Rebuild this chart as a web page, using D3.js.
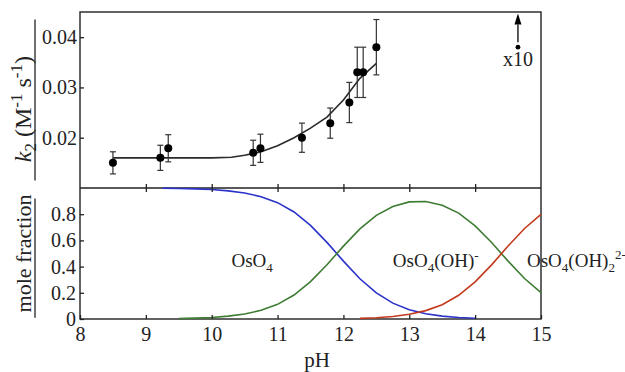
<!DOCTYPE html>
<html>
<head>
<meta charset="utf-8">
<script src="https://cdn.jsdelivr.net/npm/d3@7/dist/d3.min.js"></script>
<style>
  body { margin: 0; background: #fff; }
  svg text { font-family: "Liberation Serif", "Times New Roman", serif; fill: #222; }
</style>
</head>
<body>
<div id="chart"></div>
<script>
var width = 625, height = 372;

// measured rate constants (top panel)
var kPH  = [8.5, 9.22, 9.34, 10.63, 10.74, 11.37, 11.8, 12.09, 12.21, 12.3, 12.5];
var kVal = [0.0150, 0.0160, 0.0179, 0.0170, 0.0179, 0.0200, 0.0229, 0.0270, 0.0330, 0.0330, 0.0380];
var kErr = [0.0022, 0.0025, 0.0027, 0.0025, 0.0028, 0.0029, 0.0030, 0.0040, 0.0050, 0.0050, 0.0055];

// fitted curve
var fitPH = [8.5, 9, 9.5, 10, 10.3, 10.5, 10.75, 11, 11.25, 11.5, 11.75, 12, 12.25, 12.5];
var fitK  = [0.0160, 0.0160, 0.0160, 0.0160, 0.0161, 0.0165, 0.0172, 0.0184, 0.0200, 0.0219, 0.0241, 0.0275, 0.0318, 0.0348];

// speciation (bottom panel)
var specPH = [9.25, 9.5, 9.75, 10, 10.25, 10.5, 10.75, 11, 11.25, 11.5, 11.75, 12,
              12.25, 12.5, 12.75, 13, 13.25, 13.5, 13.75, 14, 14.25, 14.5, 14.75, 15];
var fracOsO4 = [0.998, 0.996, 0.993, 0.988, 0.978, 0.962, 0.934, 0.888, 0.817, 0.715, 0.585, 0.442,
                0.307, 0.199, 0.121, 0.071, 0.040, 0.022, 0.011, 0.006, null, null, null, null];
var fracOH   = [null, 0.004, 0.007, 0.012, 0.022, 0.038, 0.066, 0.112, 0.183, 0.285, 0.414, 0.556,
                0.688, 0.791, 0.859, 0.894, 0.897, 0.869, 0.808, 0.711, 0.584, 0.442, 0.309, 0.201];
var fracOH2  = [null, null, null, null, null, null, null, null, null, null, null, null,
                0.005, 0.010, 0.019, 0.036, 0.064, 0.109, 0.181, 0.283, 0.413, 0.557, 0.691, 0.799];

var xTicks = [8, 9, 10, 11, 12, 13, 14, 15];
var kTicks = [0.02, 0.03, 0.04];
var fTicks = [0, 0.2, 0.4, 0.6, 0.8];

var mLeft = 80, mRight = 541, mTop = 12, mMid = 188, mBottom = 319;

var x = d3.scaleLinear().domain([8, 15]).range([mLeft, mRight]);
var yK = d3.scaleLinear().domain([0.01, 0.045]).range([mMid, mTop]);
var yF = d3.scaleLinear().domain([0, 1]).range([mBottom, mMid]);

var svg = d3.select("#chart").append("svg")
    .attr("width", width)
    .attr("height", height);

// ---- top panel ----
var fitLine = d3.line()
    .x(function(d, i) { return x(fitPH[i]); })
    .y(function(d) { return yK(d); });

svg.append("path")
    .datum(fitK)
    .attr("d", fitLine)
    .attr("fill", "none")
    .attr("stroke", "#2a2a2a")
    .attr("stroke-width", 1.6);

var pts = svg.append("g").selectAll("g")
    .data(kVal)
    .enter().append("g");

pts.append("line")
    .attr("x1", function(d, i) { return x(kPH[i]); })
    .attr("x2", function(d, i) { return x(kPH[i]); })
    .attr("y1", function(d, i) { return yK(d - kErr[i]); })
    .attr("y2", function(d, i) { return yK(d + kErr[i]); })
    .attr("stroke", "#333").attr("stroke-width", 1.2);
[-1, 1].forEach(function(s) {
  pts.append("line")
      .attr("x1", function(d, i) { return x(kPH[i]) - 3; })
      .attr("x2", function(d, i) { return x(kPH[i]) + 3; })
      .attr("y1", function(d, i) { return yK(d + s * kErr[i]); })
      .attr("y2", function(d, i) { return yK(d + s * kErr[i]); })
      .attr("stroke", "#333").attr("stroke-width", 1.2);
});
pts.append("circle")
    .attr("cx", function(d, i) { return x(kPH[i]); })
    .attr("cy", function(d) { return yK(d); })
    .attr("r", 4)
    .attr("fill", "#000");

// x10 marker
var mx = x(14.65);
var headBase = yK(0.0425);
svg.append("circle").attr("cx", mx).attr("cy", yK(0.038)).attr("r", 2.4).attr("fill", "#000");
svg.append("line")
    .attr("x1", mx).attr("x2", mx)
    .attr("y1", yK(0.038) - 5).attr("y2", headBase)
    .attr("stroke", "#000").attr("stroke-width", 1.3);
svg.append("path")
    .attr("d", "M" + (mx - 3.5) + "," + headBase + "L" + mx + "," + (headBase - 11) + "L" + (mx + 3.5) + "," + headBase + "Z")
    .attr("fill", "#000");
svg.append("text")
    .attr("x", mx).attr("y", yK(0.0342))
    .attr("text-anchor", "middle")
    .attr("font-size", 20)
    .text("x10");

// ---- frame ----
svg.append("rect")
    .attr("x", mLeft).attr("y", mTop)
    .attr("width", mRight - mLeft).attr("height", mBottom - mTop)
    .attr("fill", "none").attr("stroke", "#222").attr("stroke-width", 1.4);
svg.append("line")
    .attr("x1", mLeft).attr("x2", mRight).attr("y1", mMid).attr("y2", mMid)
    .attr("stroke", "#222").attr("stroke-width", 1.4);

// ---- bottom panel ----
var species = [
  { vals: fracOsO4, color: "#2b33c9" },
  { vals: fracOH,   color: "#3e7c33" },
  { vals: fracOH2,  color: "#c23a1d" }
];
var fracLine = d3.line()
    .defined(function(d) { return d != null; })
    .x(function(d, i) { return x(specPH[i]); })
    .y(function(d) { return yF(d); });

species.forEach(function(s) {
  svg.append("path")
      .datum(s.vals)
      .attr("d", fracLine)
      .attr("fill", "none")
      .attr("stroke", s.color)
      .attr("stroke-width", 1.6);
});

function styleAxis(g) {
  g.select(".domain").remove();
  g.selectAll(".tick line").attr("stroke", "#222").attr("stroke-width", 1.3);
  g.selectAll("text").attr("font-size", 20).attr("fill", "#222")
      .attr("font-family", "Liberation Serif, serif");
}

svg.append("g")
    .attr("transform", "translate(0," + mBottom + ")")
    .call(d3.axisBottom(x).tickValues(xTicks).tickSizeInner(-4).tickSizeOuter(0).tickPadding(8)
        .tickFormat(d3.format("d")))
    .call(styleAxis);

// ticks crossing the divider
var inner = xTicks.slice(1, -1);
svg.append("g")
    .attr("transform", "translate(0," + mMid + ")")
    .call(d3.axisBottom(x).tickValues(inner).tickSize(4).tickFormat(""))
    .call(styleAxis);
svg.append("g")
    .attr("transform", "translate(0," + mMid + ")")
    .call(d3.axisTop(x).tickValues(inner).tickSize(4).tickFormat(""))
    .call(styleAxis);

svg.append("g")
    .attr("transform", "translate(" + mLeft + ",0)")
    .call(d3.axisLeft(yK).tickValues(kTicks).tickSizeInner(-4).tickSizeOuter(0).tickPadding(3)
        .tickFormat(d3.format(".2f")))
    .call(styleAxis);

svg.append("g")
    .attr("transform", "translate(" + mLeft + ",0)")
    .call(d3.axisLeft(yF).tickValues(fTicks).tickSizeInner(-4).tickSizeOuter(0).tickPadding(4)
        .tickFormat(function(d) { return d === 0 ? "0" : d3.format(".1f")(d); }))
    .call(styleAxis);

// ---- labels ----
var yl = svg.append("text")
    .attr("transform", "translate(31," + yK(0.0257) + ") rotate(-90)")
    .attr("text-anchor", "middle")
    .attr("font-size", 24);
yl.append("tspan").attr("font-style", "italic").text("k");
yl.append("tspan").attr("font-size", 17).attr("dy", 5).text("2");
yl.append("tspan").attr("dy", -5).text(" (M");
yl.append("tspan").attr("font-size", 17).attr("dy", -9).text("-1");
yl.append("tspan").attr("dy", 9).text(" s");
yl.append("tspan").attr("font-size", 17).attr("dy", -9).text("-1");
yl.append("tspan").attr("dy", 9).text(")");

svg.append("line")
    .attr("x1", 35).attr("x2", 35).attr("y1", yK(0.0435)).attr("y2", yK(0.0115))
    .attr("stroke", "#222").attr("stroke-width", 1.3);

svg.append("text")
    .attr("transform", "translate(31," + yF(0.5) + ") rotate(-90)")
    .attr("text-anchor", "middle")
    .attr("font-size", 22)
    .text("mole fraction");
svg.append("line")
    .attr("x1", 35).attr("x2", 35).attr("y1", yF(0.92)).attr("y2", yF(0.01))
    .attr("stroke", "#222").attr("stroke-width", 1.3);

svg.append("text")
    .attr("x", x(11.6)).attr("y", 367)
    .attr("text-anchor", "middle")
    .attr("font-size", 21)
    .text("pH");

// parts: [text, dy, small]
function speciesLabel(px, py, parts) {
  var t = svg.append("text").attr("x", px).attr("y", py).attr("font-size", 19);
  parts.forEach(function(p) {
    t.append("tspan")
        .attr("font-size", p[2] ? 13 : 19)
        .attr("dy", p[1])
        .text(p[0]);
  });
}
speciesLabel(x(10.3), yF(0.395), [["OsO", 0, false], ["4", 5, true]]);
speciesLabel(x(12.75), yF(0.4), [["OsO", 0, false], ["4", 5, true], ["(OH)", -5, false], ["-", -7, true]]);
speciesLabel(x(15) - 14, yF(0.4), [["OsO", 0, false], ["4", 5, true], ["(OH)", -5, false], ["2", 5, true], ["2-", -13, true]]);
</script>
</body>
</html>
